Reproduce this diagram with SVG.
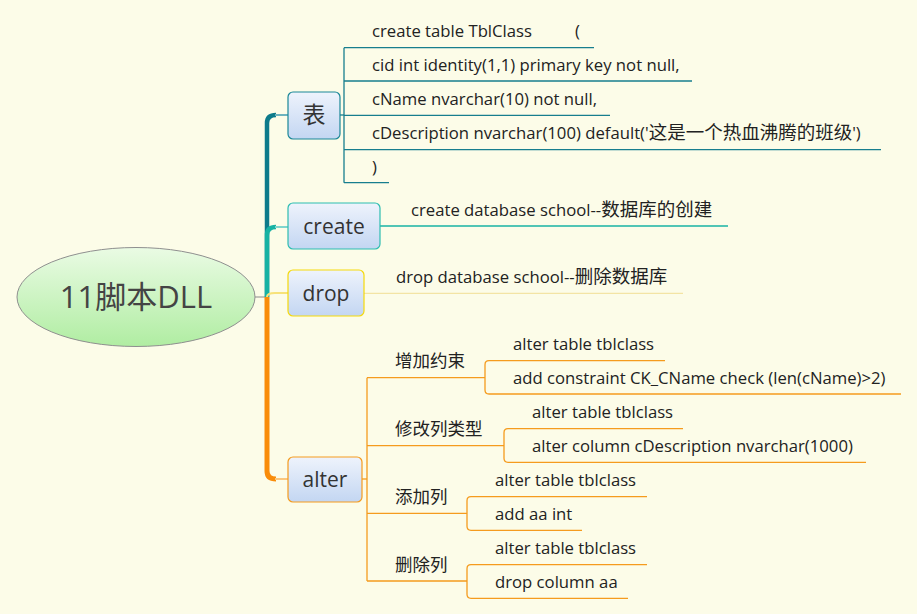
<svg xmlns="http://www.w3.org/2000/svg" width="917" height="614" viewBox="0 0 917 614">
<defs>
<linearGradient id="gRoot" x1="0" y1="0" x2="0" y2="1"><stop offset="0" stop-color="#EAFBE4"/><stop offset="1" stop-color="#B0EDA2"/></linearGradient>
<linearGradient id="gBox" x1="0" y1="0" x2="0" y2="1"><stop offset="0" stop-color="#EEF3FC"/><stop offset="1" stop-color="#C3D6F2"/></linearGradient>
<style>
text{font-family:"Open Sans","Noto Sans CJK SC",sans-serif;fill:#222}
.leaf{font-size:16.7px}
.cjk{font-size:18.5px}
.lbl{font-size:17.5px}
.node{font-size:21px;fill:#333}
.box{fill:url(#gBox);stroke-width:1.2}
.teal{stroke:#177E8E;stroke-width:1.3;fill:none}
.org{stroke:#F59B1E;stroke-width:1.3;fill:none}
</style>
</defs>
<rect width="917" height="614" fill="#FCFCE8"/>
<g id="connectors" fill="none">
<line x1="255" y1="297" x2="268" y2="297" stroke="#8a8a8a" stroke-width="1"/>
<path d="M267,297 V123 Q267,115 276,115" stroke="#0D7B8B" stroke-width="4.5"/>
<line x1="275" y1="115" x2="288" y2="115" stroke="#6DB3BE" stroke-width="2"/>
<path d="M267,297 V235 Q267,227 276,227" stroke="#17B2A3" stroke-width="4.5"/>
<line x1="275" y1="227" x2="288" y2="227" stroke="#7FD6CD" stroke-width="2"/>
<path d="M267,297 Q267,293 275,293 H288" stroke="#F7E27A" stroke-width="2"/>
<path d="M267,297 V471 Q267,479 276,479" stroke="#F98C0A" stroke-width="5"/>
<line x1="275" y1="479" x2="288" y2="479" stroke="#FBC77E" stroke-width="2"/>
<line class="teal" x1="340" y1="115" x2="344" y2="115"/>
<line class="teal" x1="344" y1="47.7" x2="344" y2="182.7"/>
<line class="teal" x1="344" y1="47.7" x2="594" y2="47.7"/>
<line class="teal" x1="344" y1="81" x2="692" y2="81"/>
<line class="teal" x1="344" y1="115.3" x2="610" y2="115.3"/>
<line class="teal" x1="344" y1="149.7" x2="881" y2="149.7"/>
<line class="teal" x1="344" y1="182.7" x2="389" y2="182.7"/>
<line x1="380" y1="226" x2="728" y2="226" stroke="#18B3A4" stroke-width="1.3"/>
<line x1="364" y1="293.3" x2="683" y2="293.3" stroke="#F3E4A4" stroke-width="1.3"/>
<line class="org" x1="362" y1="479" x2="367" y2="479"/>
<line class="org" x1="367" y1="377.7" x2="367" y2="581"/>
<line class="org" x1="367" y1="377.7" x2="485" y2="377.7"/>
<line class="org" x1="367" y1="445.7" x2="504" y2="445.7"/>
<line class="org" x1="367" y1="513.3" x2="467" y2="513.3"/>
<line class="org" x1="367" y1="581" x2="467" y2="581"/>
<path class="org" d="M665,360.7 H489 Q485,360.7 485,364.7 V390 Q485,394 489,394 H901"/>
<path class="org" d="M683,428.7 H508 Q504,428.7 504,432.7 V458.3 Q504,462.3 508,462.3 H866"/>
<path class="org" d="M647,496.7 H471 Q467,496.7 467,500.7 V526.3 Q467,530.3 471,530.3 H582"/>
<path class="org" d="M647,564.7 H471 Q467,564.7 467,568.7 V594.3 Q467,598.3 471,598.3 H628"/>
</g>
<g id="root">
<ellipse cx="136" cy="297" rx="119" ry="49.5" fill="url(#gRoot)" stroke="#8f8f8f" stroke-width="1"/>
<text x="136" y="308" text-anchor="middle" style="font-size:31px;fill:#444">11脚本DLL</text>
</g>
<g id="n-biao">
<rect class="box" x="288" y="92" width="52" height="47" rx="5" stroke="#1A8797"/>
<text class="node" x="314" y="123" text-anchor="middle" style="font-size:23px">表</text>
</g>
<g id="n-biao-1"><text class="leaf" x="372" y="37">create table TblClass</text><text class="leaf" x="575" y="37">(</text></g>
<g id="n-biao-2"><text class="leaf" x="372" y="71">cid int identity(1,1) primary key not null,</text></g>
<g id="n-biao-3"><text class="leaf" x="372" y="105">cName nvarchar(10) not null,</text></g>
<g id="n-biao-4"><text class="leaf" x="372" y="139">cDescription nvarchar(100) default('<tspan class="cjk">这是一个热血沸腾的班级</tspan>')</text></g>
<g id="n-biao-5"><text class="leaf" x="372" y="173">)</text></g>
<g id="n-create">
<rect class="box" x="288" y="203" width="92" height="46" rx="5" stroke="#2DBDB0"/>
<text class="node" x="334" y="234" text-anchor="middle">create</text>
</g>
<g id="n-create-1"><text class="leaf" x="411" y="216">create database school--<tspan class="cjk">数据库的创建</tspan></text></g>
<g id="n-drop">
<rect class="box" x="288" y="270" width="76" height="46" rx="5" stroke="#F5D90A"/>
<text class="node" x="326" y="301" text-anchor="middle">drop</text>
</g>
<g id="n-drop-1"><text class="leaf" x="396" y="283">drop database school--<tspan class="cjk">删除数据库</tspan></text></g>
<g id="n-alter">
<rect class="box" x="288" y="457" width="74" height="45" rx="5" stroke="#F59B1E"/>
<text class="node" x="325" y="487" text-anchor="middle">alter</text>
</g>
<g id="n-zengjia"><text class="lbl" x="395" y="367">增加约束</text></g>
<g id="n-zengjia-1"><text class="leaf" x="513" y="350">alter table tblclass</text></g>
<g id="n-zengjia-2"><text class="leaf" x="513" y="384">add constraint CK_CName check (len(cName)&gt;2)</text></g>
<g id="n-xiugai"><text class="lbl" x="395" y="435">修改列类型</text></g>
<g id="n-xiugai-1"><text class="leaf" x="532" y="418">alter table tblclass</text></g>
<g id="n-xiugai-2"><text class="leaf" x="532" y="452">alter column cDescription nvarchar(1000)</text></g>
<g id="n-tianjia"><text class="lbl" x="395" y="503">添加列</text></g>
<g id="n-tianjia-1"><text class="leaf" x="495" y="486">alter table tblclass</text></g>
<g id="n-tianjia-2"><text class="leaf" x="495" y="520">add aa int</text></g>
<g id="n-shanchu"><text class="lbl" x="395" y="571">删除列</text></g>
<g id="n-shanchu-1"><text class="leaf" x="495" y="554">alter table tblclass</text></g>
<g id="n-shanchu-2"><text class="leaf" x="495" y="588">drop column aa</text></g>
</svg>
